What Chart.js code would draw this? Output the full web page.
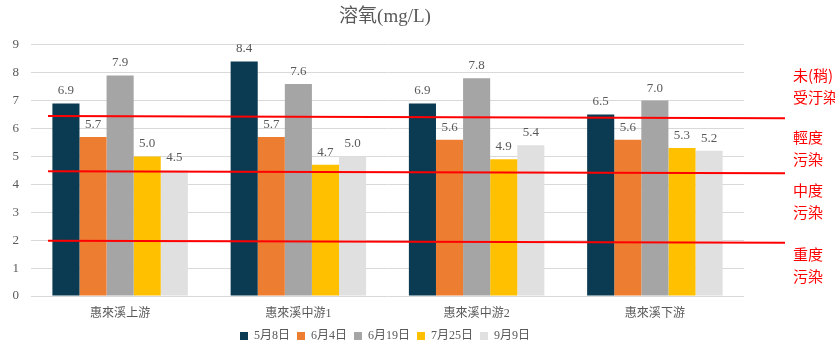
<!DOCTYPE html>
<html>
<head>
<meta charset="utf-8">
<script src="https://cdn.jsdelivr.net/npm/chart.js@4"></script>
<style>
  html, body { margin: 0; padding: 0; background: #fff; }
  #wrap { width: 835px; height: 352px; }
</style>
</head>
<body>
<div id="wrap"><canvas id="doChart"></canvas></div>
<script>
const categories = ["惠來溪上游", "惠來溪中游1", "惠來溪中游2", "惠來溪下游"];
const seriesNames = ["5月8日", "6月4日", "6月19日", "7月25日", "9月9日"];
const may8 = [6.9, 8.4, 6.9, 6.5];
const jun4 = [5.7, 5.7, 5.6, 5.6];
const jun19 = [7.9, 7.6, 7.8, 7.0];
const jul25 = [5.0, 4.7, 4.9, 5.3];
const sep9 = [4.5, 5.0, 5.4, 5.2];
const yTicks = [0, 1, 2, 3, 4, 5, 6, 7, 8, 9];

// hand drawn pollution level lines (value at left end, value at right end)
const levelStart = [6.45, 4.47, 1.98];
const levelEnd = [6.37, 4.40, 1.91];
const levelNames = [["未(稍)", "受汙染"], ["輕度", "污染"], ["中度", "污染"], ["重度", "污染"]];
const levelLabelAt = [7.5, 5.3, 3.4, 1.1];

const colors = ["#0b3b53", "#ed7d31", "#a5a5a5", "#ffc000", "#e0e0e0"];
const serif = "'Liberation Serif', 'Noto Sans CJK TC', serif";

const valueLabels = {
  id: "valueLabels",
  afterDatasetsDraw(chart) {
    const ctx = chart.ctx;
    ctx.save();
    ctx.font = "13px " + serif;
    ctx.fillStyle = "#595959";
    ctx.textAlign = "center";
    ctx.textBaseline = "bottom";
    chart.data.datasets.forEach((ds, i) => {
      chart.getDatasetMeta(i).data.forEach((bar, j) => {
        ctx.fillText(ds.data[j].toFixed(1), bar.x, bar.y - 6);
      });
    });
    ctx.restore();
  }
};

const levelLines = {
  id: "levelLines",
  afterDraw(chart) {
    const ctx = chart.ctx;
    const y = chart.scales.y;
    const area = chart.chartArea;
    const x0 = area.left + 17;
    const x1 = area.right + 41;
    ctx.save();
    ctx.strokeStyle = "#ff0000";
    ctx.lineWidth = 2;
    levelStart.forEach((v, i) => {
      ctx.beginPath();
      ctx.moveTo(x0, y.getPixelForValue(v));
      ctx.lineTo(x1, y.getPixelForValue(levelEnd[i]));
      ctx.stroke();
    });
    ctx.fillStyle = "#ff0000";
    ctx.font = "15px 'Noto Sans CJK TC', sans-serif";
    ctx.textAlign = "left";
    ctx.textBaseline = "middle";
    levelNames.forEach((lines, i) => {
      const cy = y.getPixelForValue(levelLabelAt[i]);
      ctx.fillText(lines[0], area.right + 49, cy - 11);
      ctx.fillText(lines[1], area.right + 49, cy + 11);
    });
    ctx.restore();
  }
};

const series = [may8, jun4, jun19, jul25, sep9];

new Chart(document.getElementById("doChart"), {
  type: "bar",
  data: {
    labels: categories,
    datasets: series.map((d, i) => ({
      label: seriesNames[i],
      data: d,
      backgroundColor: colors[i],
      borderWidth: 0,
      barPercentage: 1,
      categoryPercentage: 0.76
    }))
  },
  options: {
    responsive: true,
    maintainAspectRatio: false,
    animation: false,
    layout: { padding: { left: 0, right: 65, top: 0, bottom: 0 } },
    plugins: {
      title: {
        display: true,
        text: "溶氧(mg/L)",
        color: "#595959",
        font: { family: serif, size: 19, weight: "normal", lineHeight: 1.2 },
        padding: { top: 6, bottom: 16 }
      },
      legend: {
        position: "bottom",
        labels: {
          color: "#595959",
          font: { family: serif, size: 12 },
          boxWidth: 8,
          boxHeight: 8,
          padding: 7
        }
      },
      tooltip: { enabled: false }
    },
    scales: {
      x: {
        grid: { display: false, drawTicks: false },
        border: { display: false },
        ticks: { color: "#595959", font: { family: serif, size: 12 }, padding: 11 },
        afterFit: s => { s.height = 27; }
      },
      y: {
        min: 0,
        max: 9,
        afterBuildTicks: s => { s.ticks = yTicks.map(v => ({ value: v })); },
        grid: { color: "#d9d9d9", drawTicks: false },
        border: { display: false },
        ticks: { color: "#595959", font: { family: serif, size: 13 }, padding: 12 },
        afterFit: s => { s.width = 31; }
      },
      // empty spacer on the right so the title and legend centre over the plot
      yr: {
        position: "right",
        grid: { display: false },
        border: { display: false },
        ticks: { display: false },
        afterFit: s => { s.width = 26; }
      }
    }
  },
  plugins: [valueLabels, levelLines]
});
</script>
</body>
</html>
